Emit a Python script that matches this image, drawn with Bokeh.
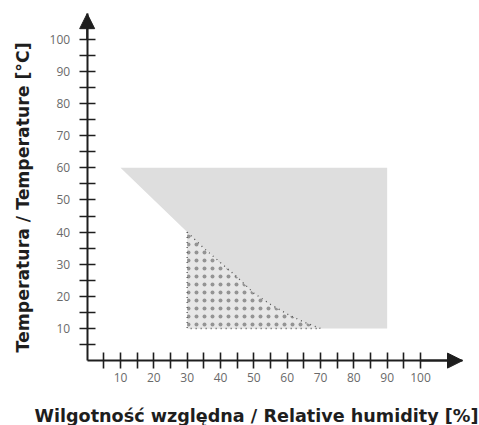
import numpy as np
from bokeh.plotting import figure
from bokeh.models import FixedTicker, Range1d, Arrow, NormalHead
from bokeh.core.properties import value
from bokeh.embed import file_html
from bokeh.resources import INLINE

# ---- data ----
humidity_ticks = [10, 20, 30, 40, 50, 60, 70, 80, 90, 100]
humidity_minor = [5, 15, 25, 35, 45, 55, 65, 75, 85, 95]
temp_ticks = [10, 20, 30, 40, 50, 60, 70, 80, 90, 100]
temp_minor = [5, 15, 25, 35, 45, 55, 65, 75, 85, 95]

# operating range (grey area)
op_hum = [10, 90, 90, 30, 30]
op_temp = [60, 60, 10, 10, 40]

# dotted area (boundary curve + corner)
dot_hum = [30, 35, 40, 45, 50, 55, 60, 65, 70, 30]
dot_temp = [40, 35, 30.5, 26, 21, 17.5, 14.5, 12, 10, 10]

x_label = "Wilgotność względna / Relative humidity [%]"
y_label = "Temperatura / Temperature [°C]"

X_END = 112.6   # arrow tip of the humidity axis
Y_END = 108.0   # arrow tip of the temperature axis

p = figure(width=479, height=425, output_backend="svg", toolbar_location=None,
           x_range=Range1d(-26.0, 117.7), y_range=Range1d(-20.2, 112.1),
           min_border_left=0, min_border_right=0, min_border_top=0,
           min_border_bottom=0)
p.outline_line_color = None
p.grid.visible = False
p.background_fill_color = "white"
p.border_fill_color = "white"

p.patch(op_hum, op_temp, fill_color="#dedede", line_color=None)
p.patch(dot_hum, dot_temp, fill_color="#e7e7e7", line_color="#555555",
        line_width=1.3, line_dash="1 4",
        hatch_pattern="dot", hatch_color="#505050", hatch_scale=8,
        hatch_alpha=0.55, hatch_weight=0.5)

for ax in (p.xaxis[0], p.yaxis[0]):
    ax.fixed_location = 0
    ax.axis_line_color = "#1e1e1e"
    ax.axis_line_width = 2
    ax.major_tick_line_color = "#1e1e1e"
    ax.minor_tick_line_color = "#1e1e1e"
    ax.major_tick_line_width = 1.6
    ax.minor_tick_line_width = 1.6
    ax.major_tick_in = 8
    ax.major_tick_out = 8
    ax.minor_tick_in = 8
    ax.minor_tick_out = 8
    ax.major_label_text_color = "#6a6a6a"
    ax.major_label_text_font = "Open Sans"
    ax.major_label_text_font_size = "12px"

p.xaxis.bounds = (0, X_END)
p.yaxis.bounds = (0, Y_END)
p.xaxis.ticker = FixedTicker(ticks=humidity_ticks, minor_ticks=humidity_minor)
p.yaxis.ticker = FixedTicker(ticks=temp_ticks, minor_ticks=temp_minor)
p.xaxis.major_label_standoff = 4
p.yaxis.major_label_standoff = 9

p.add_layout(Arrow(end=NormalHead(size=15, fill_color="#1e1e1e", line_color="#1e1e1e"),
                   x_start=0, y_start=100, x_end=0, y_end=Y_END,
                   line_color="#1e1e1e", line_width=2))
p.add_layout(Arrow(end=NormalHead(size=15, fill_color="#1e1e1e", line_color="#1e1e1e"),
                   x_start=100, y_start=0, x_end=X_END, y_end=0,
                   line_color="#1e1e1e", line_width=2))

p.text(x=[50.8], y=[-17.1], text=[x_label], text_align="center",
       text_baseline="middle", text_font=value("DejaVu Sans"),
       text_font_style="bold", text_font_size="17.6px", text_color="#1e1e1e")
p.text(x=[-19.4], y=[50.8], text=[y_label], angle=np.pi / 2,
       text_align="center", text_baseline="middle",
       text_font=value("DejaVu Sans"), text_font_style="bold",
       text_font_size="17.3px", text_color="#1e1e1e")

open("out.html", "w").write(file_html(p, INLINE))
